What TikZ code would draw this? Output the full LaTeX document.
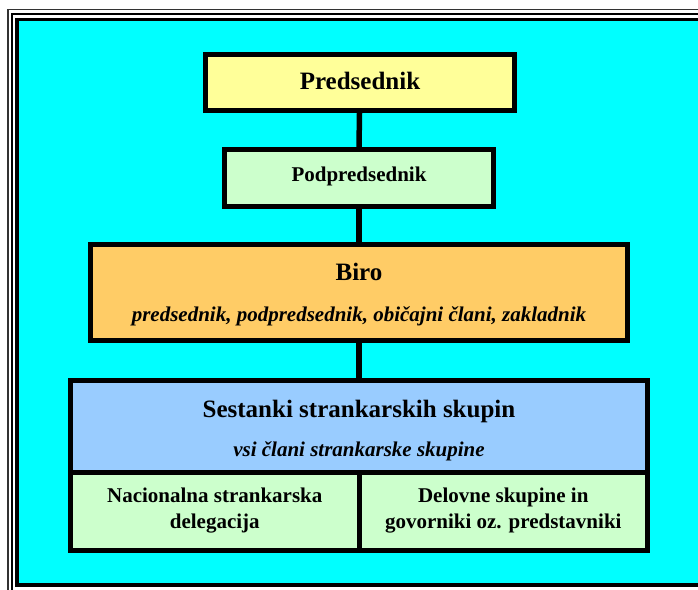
\documentclass[tikz,border=0pt]{standalone}
\usepackage{fontspec}
\setmainfont{Liberation Serif}
\usetikzlibrary{calc}
\definecolor{bgcyan}{HTML}{00FFFF}
\definecolor{boxyellow}{HTML}{FFFF99}
\definecolor{boxgreen}{HTML}{CCFFCC}
\definecolor{boxorange}{HTML}{FFCC66}
\definecolor{boxblue}{HTML}{99CCFF}
\begin{document}
\begin{tikzpicture}[x=1pt,y=-1pt,
  box/.style={draw=black, line width=5pt, rectangle, inner sep=0pt},
  link/.style={draw=black, line width=5.5pt},
  bigtext/.style={font=\fontsize{25}{30}\selectfont\bfseries, anchor=base, inner sep=0pt},
  midtext/.style={font=\fontsize{21}{26}\selectfont\bfseries, anchor=base, inner sep=0pt},
  subtext/.style={font=\fontsize{21}{26}\selectfont\bfseries\itshape, anchor=base, inner sep=0pt},
  celltext/.style={font=\fontsize{21}{26}\selectfont\bfseries, align=center, inner sep=0pt}]
\useasboundingbox (0,0) rectangle (698,589);

% triple frame around the cyan panel
\begin{scope}
  \clip (0,0) rectangle (698,589);
  \fill[bgcyan] (17,19.5) rectangle (760,585);
  \draw[draw=black!80, line width=1.8pt] (8,9.5) rectangle (780,640);
  \draw[draw=black, line width=2.6pt] (11.8,14) rectangle (770,630);
  \draw[draw=black, line width=3.6pt] (17,19.5) rectangle (760,585);
\end{scope}

% boxes
\node[box, fill=boxyellow, minimum width=309pt, minimum height=56pt] (pred) at (359.5,82.5) {};
\node[box, fill=boxgreen, minimum width=269pt, minimum height=57pt] (podp) at (359,178) {};
\node[box, fill=boxorange, minimum width=537pt, minimum height=96pt] (biro) at (359,292.5) {};
\node[box, fill=boxblue, minimum width=577pt, minimum height=91.5pt] (sest) at (359,426.25) {};
\node[box, fill=boxgreen, minimum width=288.5pt, minimum height=78.5pt] (nac) at (214.75,511.25) {};
\node[box, fill=boxgreen, minimum width=288.5pt, minimum height=78.5pt] (del) at (503.25,511.25) {};

% connectors
\draw[link] (pred.south) -- (podp.north);
\draw[link] (podp.south) -- (biro.north);
\draw[link] (biro.south) -- (sest.north);

% labels
\node[bigtext] (predT) at (360,89.5) {Predsednik};
\node[midtext] (podpT) at (359,181) {Podpredsednik};
\node[bigtext] (biroT) at (359,280) {Biro};
\node[subtext] (biroS) at (359,321) {predsednik, podpredsednik, običajni člani, zakladnik};
\node[bigtext] (sestT) at (359,417.5) {Sestanki strankarskih skupin};
\node[subtext] (sestS) at (359,456) {vsi člani strankarske skupine};
\node[celltext] (nacT) at (214.75,511) {Nacionalna strankarska\\delegacija};
\node[celltext] (delT) at (503.25,511) {Delovne skupine in\\govorniki oz. predstavniki};
\end{tikzpicture}
\end{document}
